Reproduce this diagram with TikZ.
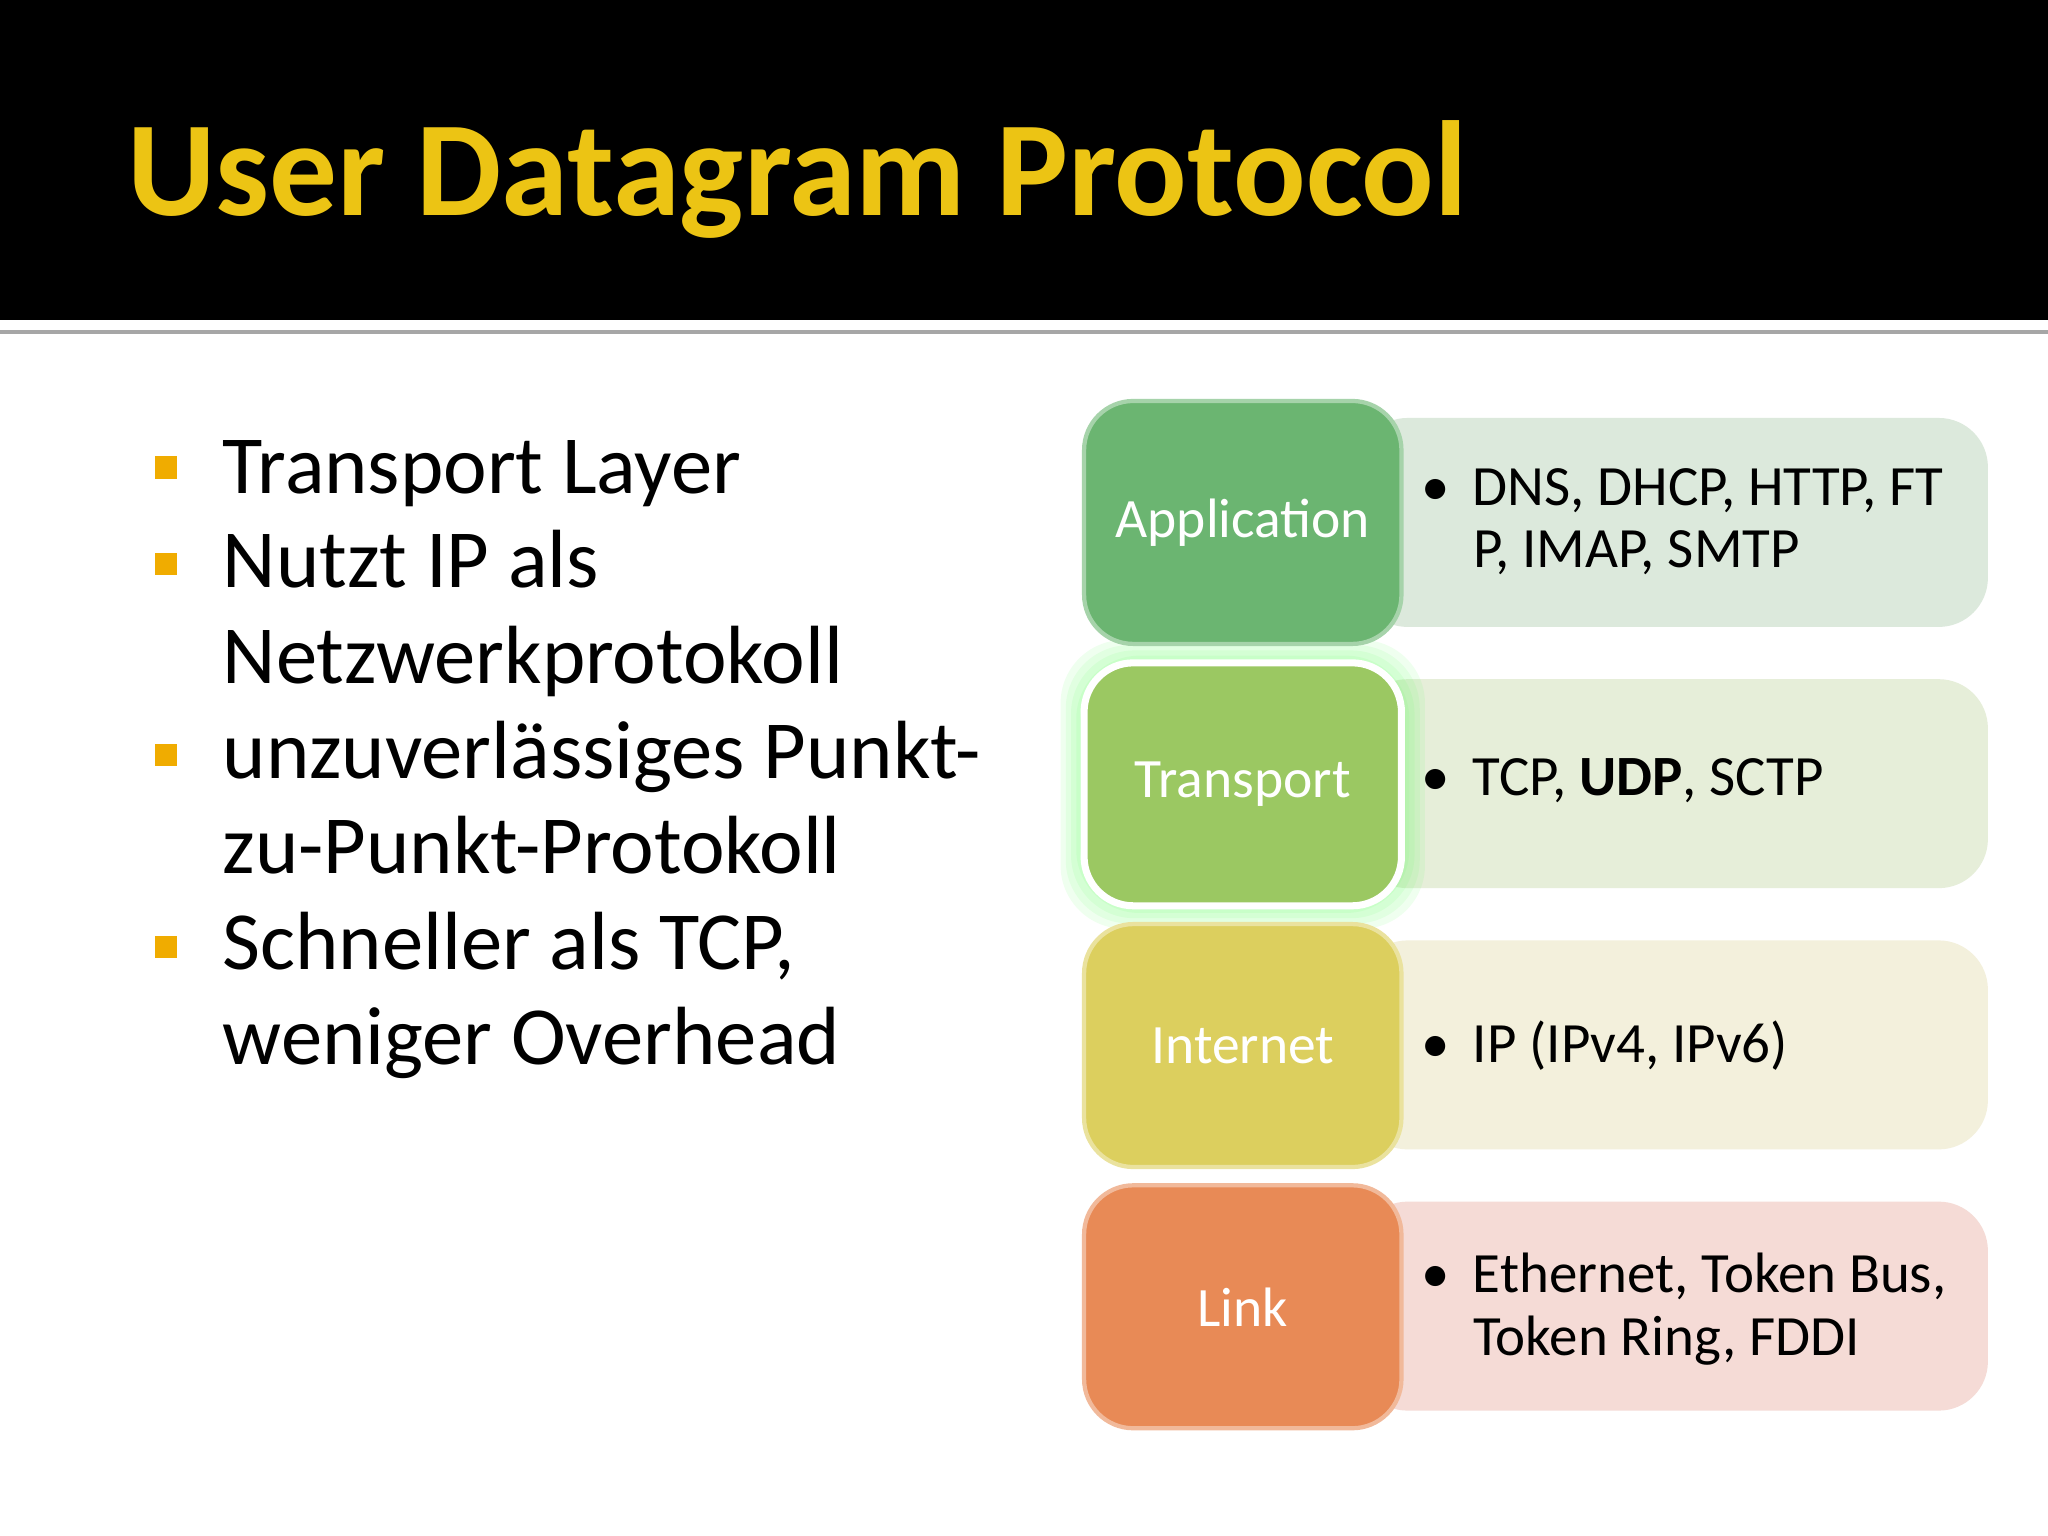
\documentclass[tikz,border=0pt]{standalone}
\usepackage{fontspec}
\setmainfont{Carlito}
\begin{document}
\begin{tikzpicture}[x=0.013061cm,y=-0.013061cm,
  lbox/.style={draw=white,line width=1.2pt,rounded corners=14pt,minimum width=243*0.013061cm,minimum height=186*0.013061cm,text=white,font=\fontsize{15.8}{19}\selectfont},
  rbox/.style={rounded corners=14pt,minimum width=482*0.013061cm,minimum height=160*0.013061cm},
  rtext/.style={anchor=north west,align=left,font=\fontsize{16.2}{17.8}\selectfont,inner sep=0pt},
  btxt/.style={anchor=base west,font=\fontsize{23.5}{28}\selectfont,inner sep=0pt},
  sq/.style={fill={rgb,255:red,240;green,172;blue,0},minimum size=17*0.013061cm,inner sep=0pt}]
\useasboundingbox (0,0) rectangle (1568,1176);
\fill[white] (0,0) rectangle (1568,1176);
\fill[black] (0,0) rectangle (1568,245);
\fill[gray!70] (0,253) rectangle (1568,256);
\node[anchor=base west,inner sep=0pt,text={rgb,255:red,236;green,196;blue,20},font=\fontsize{38.5}{40}\selectfont\bfseries] (title) at (97,165) {User Datagram Protocol};
% bullets
\node[sq] (s1) at (127,358) {};
\node[sq] (s2) at (127,432) {};
\node[sq] (s3) at (127,578) {};
\node[sq] (s4) at (127,725) {};
\node[btxt] (t1) at (170,378) {Transport Layer};
\node[btxt] (t2) at (170,450) {Nutzt IP als};
\node[btxt] (t2b) at (170,523) {Netzwerkprotokoll};
\node[btxt] (t3) at (170,596) {unzuverlässiges Punkt-};
\node[btxt] (t3b) at (170,669) {zu-Punkt-Protokoll};
\node[btxt] (t4) at (170,742) {Schneller als TCP,};
\node[btxt] (t4b) at (170,815) {weniger Overhead};
% right boxes
\definecolor{ca}{RGB}{107,181,113}\definecolor{ra}{RGB}{220,233,220}
\definecolor{ct}{RGB}{155,200,98}\definecolor{rt}{RGB}{230,238,217}
\definecolor{ci}{RGB}{220,207,94}\definecolor{ri}{RGB}{243,240,220}
\definecolor{cl}{RGB}{232,138,86}\definecolor{rl}{RGB}{245,219,214}
\node[rbox,fill=ra] (ra) at (1281,400) {};
\node[rbox,fill=rt] (rt) at (1281,600) {};
\node[rbox,fill=ri] (ri) at (1281,800) {};
\node[rbox,fill=rl] (rl) at (1281,1000) {};
\foreach \k in {18,14,10,6,3} {\fill[green!60,opacity=0.1,rounded corners=18pt] (830-\k,508-\k) rectangle (1073+\k,693+\k);}
\node[lbox,fill=ca,draw=ca!60!white] (la) at (951.5,400) {Application};
\node[lbox,fill=ct,draw=white,line width=2pt] (lt) at (951.5,600.5) {Transport};
\node[lbox,fill=ci,draw=ci!60!white] (li) at (951.5,800.5) {Internet};
\node[lbox,fill=cl,draw=cl!60!white] (ll) at (951.5,1000.5) {Link};
\node[rtext] (xa) at (1088,358) {•\hspace{0.4em}DNS, DHCP, HTTP, FT\\\hspace*{0.9em}P, IMAP, SMTP};
\node[rtext] (xt) at (1088,580) {•\hspace{0.4em}TCP, \textbf{UDP}, SCTP};
\node[rtext] (xi) at (1088,781) {•\hspace{0.4em}IP (IPv4, IPv6)};
\node[rtext] (xl) at (1088,959) {•\hspace{0.4em}Ethernet, Token Bus,\\\hspace*{0.9em}Token Ring, FDDI};
\end{tikzpicture}
\end{document}
